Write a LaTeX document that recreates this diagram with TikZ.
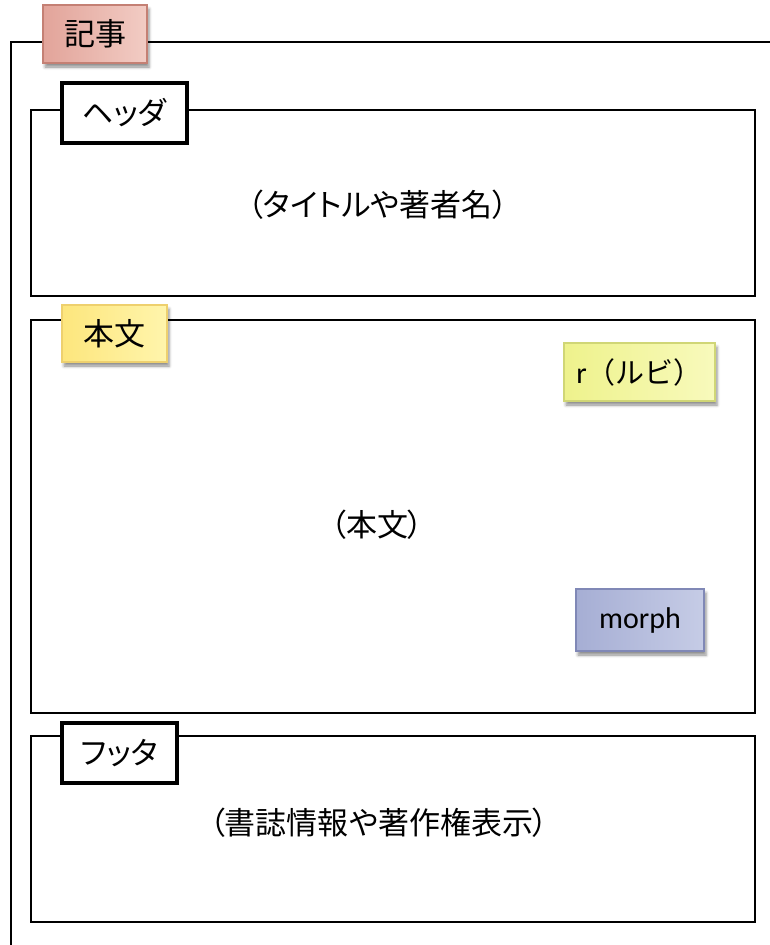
\documentclass[tikz,border=0pt]{standalone}
\usepackage{fontspec}
\newfontfamily\jpfont[RawFeature=+palt]{Noto Sans CJK JP}
\newfontfamily\jpwide{Noto Sans CJK JP}
\newfontfamily\calfont{Carlito}
\usetikzlibrary{shadows.blur}
\definecolor{kijiA}{RGB}{226,164,154}
\definecolor{kijiB}{RGB}{242,204,196}
\definecolor{kijiD}{RGB}{196,128,116}
\definecolor{honA}{RGB}{253,230,125}
\definecolor{honB}{RGB}{255,245,172}
\definecolor{honD}{RGB}{238,208,110}
\definecolor{rubyA}{RGB}{238,242,140}
\definecolor{rubyB}{RGB}{248,250,188}
\definecolor{rubyD}{RGB}{208,214,118}
\definecolor{morA}{RGB}{166,174,212}
\definecolor{morB}{RGB}{198,204,230}
\definecolor{morD}{RGB}{128,136,182}
\begin{document}
\begin{tikzpicture}[x=1pt,y=-1pt,
  frame/.style={draw=black, line width=1.8pt},
  tag/.style={rectangle, inner sep=0pt, font=\jpfont\fontsize{31}{33}\selectfont},
  plaintag/.style={tag, draw=black, fill=white, line width=3.6pt},
  colortag/.style={tag, line width=1.2pt,
    blur shadow={shadow xshift=2pt, shadow yshift=-4pt, shadow blur radius=3pt, shadow opacity=45}},
  bodytext/.style={font=\jpfont\fontsize{31}{33}\selectfont}]
\useasboundingbox (0,0) rectangle (769,945);
% outer article frame
\coordinate (outerB) at (11,950);
\coordinate (outerTL) at (11,42);
\coordinate (outerR) at (775,42);
\draw[frame] (outerB) -- (outerTL) -- (outerR);
% section frames
\draw[frame] (31,110) rectangle (755,296);
\draw[frame] (31,320) rectangle (755,713);
\draw[frame] (31,736) rectangle (755,922);
% texts
\node[bodytext] (htext) at (378,205) {（タイトルや著者名）};
\node[bodytext] (btext) at (377,525) {（本文）};
\node[bodytext] (ftext) at (379,823) {（書誌情報や著作権表示）};
% tags
\node[colortag, draw=kijiD, left color=kijiA, right color=kijiB,
  minimum width=104pt, minimum height=58pt] (kiji) at (95,34) {記事};
\node[plaintag, minimum width=125pt, minimum height=60pt] (header) at (124.5,113) {ヘッダ};
\node[colortag, draw=honD, left color=honA, right color=honB,
  minimum width=105pt, minimum height=57pt] (honbun) at (114.5,333.5) {本文};
\node[colortag, draw=rubyD, left color=rubyA, right color=rubyB,
  minimum width=151pt, minimum height=58pt, font=\jpwide\fontsize{29}{31}\selectfont] (ruby) at (639.5,372) {{\calfont\fontsize{30}{32}\selectfont r}（ルビ）};
\node[colortag, draw=morD, left color=morA, right color=morB,
  minimum width=128pt, minimum height=62pt, font=\calfont\fontsize{30}{32}\selectfont] (morph) at (640,620) {morph};
\node[plaintag, minimum width=115pt, minimum height=60pt] (footer) at (119.5,753) {フッタ};
\end{tikzpicture}
\end{document}
